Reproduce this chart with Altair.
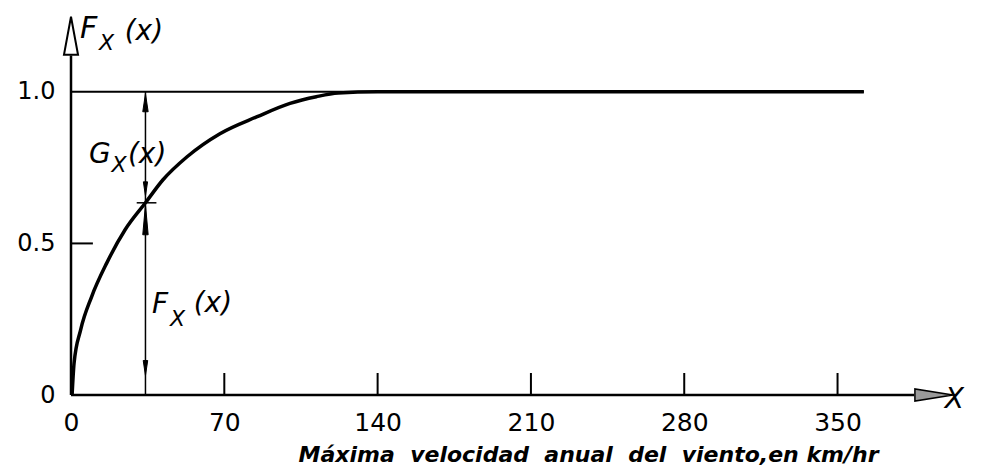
import altair as alt
import pandas as pd

# ---- data ----
curve_x = [0.5, 1.4, 4.4, 9.4, 16.3, 24.7, 34, 42, 53, 68, 85, 100, 112, 122, 140, 362]
curve_y = [0.0, 0.105, 0.215, 0.324, 0.435, 0.545, 0.634, 0.71, 0.786, 0.862, 0.918, 0.962, 0.984, 0.996, 1.0, 1.0]
x_ticks = [0, 70, 140, 210, 280, 350]
y_ticks = [0, 0.5, 1.0]
x_marked = 34
level_end = 362
x_title = "Máxima\u00a0 velocidad\u00a0 anual\u00a0 del\u00a0 viento,en km/hr"

FONT = "DejaVu Sans"
XMAX, YMAX = 405, 1.27
W, H = 887, 385
xs = alt.Scale(domain=[0, XMAX], nice=False, zero=False)
ys = alt.Scale(domain=[0, YMAX], nice=False, zero=False)

curve_df = pd.DataFrame({"x": curve_x, "y": curve_y})

curve = alt.Chart(curve_df).mark_line(color="black", strokeWidth=3.5, interpolate="monotone").encode(
    x=alt.X("x:Q", scale=xs, axis=alt.Axis(
        values=x_ticks, domain=False, ticks=False, grid=False, labelFont=FONT,
        labelFontSize=25, labelColor="black", labelPadding=15, labelFlush=False,
        title=x_title, titleFont=FONT, titleFontSize=22, titleFontStyle="italic",
        titleFontWeight="bold", titleColor="black", titleAnchor="end",
        titleAlign="right", titleX=807, titleY=66, titleBaseline="alphabetic")),
    y=alt.Y("y:Q", scale=ys, axis=alt.Axis(
        values=y_ticks, domain=False, ticks=False, grid=False, labelFont=FONT,
        labelFontSize=24, labelColor="black", labelPadding=16,
        labelExpr="datum.value == 0 ? '0' : format(datum.value, '.1f')", title=None)),
)

def seg(x1, x2, y1, y2, sw):
    df = pd.DataFrame({"x": [x1], "x2": [x2], "y": [y1], "y2": [y2]})
    return alt.Chart(df).mark_rule(color="black", strokeWidth=sw).encode(
        x=alt.X("x:Q", scale=xs), x2="x2:Q", y=alt.Y("y:Q", scale=ys), y2="y2:Q")

y_axis = seg(0, 0, 0, 1.12, 2.5)
x_axis = seg(0, 385, 0, 0, 2.5)
level = seg(0, level_end, 1.0, 1.0, 2)
vline = seg(x_marked, x_marked, 0, 1.0, 1.5)
cross = seg(x_marked - 4, x_marked + 5, 0.634, 0.634, 1.5)
ytick = seg(0, 10, 0.5, 0.5, 2)

xt_df = pd.DataFrame({"x": x_ticks[1:]})
xticks = alt.Chart(xt_df).mark_rule(color="black", strokeWidth=2).encode(
    x=alt.X("x:Q", scale=xs), y=alt.value(H), y2=alt.value(H - 22))

def sym(x, y, shape, size, fill, stroke="black", sw=1.0):
    df = pd.DataFrame({"x": [x], "y": [y]})
    return alt.Chart(df).mark_point(shape=shape, size=size, filled=True, fill=fill,
                                    stroke=stroke, strokeWidth=sw, opacity=1).encode(
        x=alt.X("x:Q", scale=xs), y=alt.Y("y:Q", scale=ys))

UP = "M0,-1L0.3,1L-0.3,1Z"
DOWN = "M0,1L0.3,-1L-0.3,-1Z"
arrows = [
    sym(0, 1.185, "M0,-1L0.37,1L-0.37,1Z", 1444, "white", sw=2),
    sym(394, 0, "M1,0L-1,-0.32L-1,0.32Z", 1444, "#9a9a9a", sw=1.5),
    sym(x_marked, 0.964, UP, 324, "black"),
    sym(x_marked, 0.68, DOWN, 196, "black"),
    sym(x_marked, 0.578, "M0,-1L0.18,1L-0.18,1Z", 900, "black"),
    sym(x_marked, 0.089, DOWN, 225, "black"),
]

def txt(x, y, s, size):
    df = pd.DataFrame({"x": [x], "y": [y], "t": [s]})
    return alt.Chart(df).mark_text(align="left", baseline="alphabetic", font=FONT,
                                   fontSize=size, fontStyle="italic", color="black").encode(
        x=alt.X("x:Q", scale=xs), y=alt.Y("y:Q", scale=ys), text="t:N")

texts = [
    txt(4.1, 1.178, "F", 30), txt(12.8, 1.139, "X", 22), txt(24.5, 1.172, "(x)", 28),
    txt(8.2, 0.766, "G", 28), txt(18.5, 0.736, "X", 22), txt(26, 0.766, "(x)", 28),
    txt(37, 0.271, "F", 28), txt(45.2, 0.228, "X", 22), txt(56, 0.274, "(x)", 28),
    txt(399, -0.043, "X", 28),
]

chart = alt.layer(curve, y_axis, x_axis, level, vline, cross, ytick, xticks, *arrows, *texts).properties(
    width=W, height=H,
    background="white",
    autosize=alt.AutoSizeParams(type="none"),
    padding={"left": 63, "top": 2, "right": 16, "bottom": 70},
).configure_view(stroke=None, strokeWidth=0)

chart.save("out.html", embed_options={"renderer": "svg", "actions": False})
